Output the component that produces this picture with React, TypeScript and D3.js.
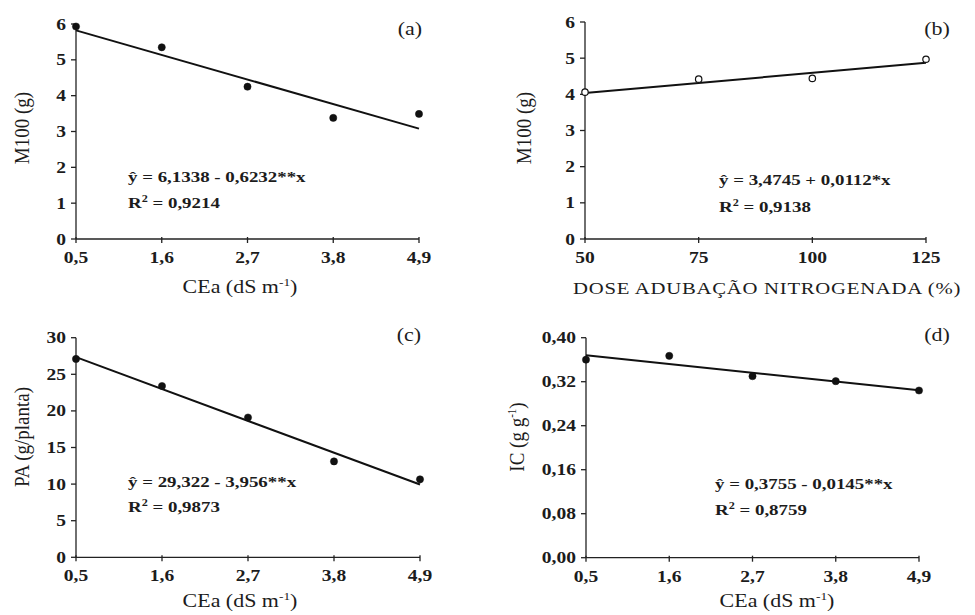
import React from "react";
import * as d3 from "d3";

// ---------- data ----------
const ceaLevels = [0.5, 1.6, 2.7, 3.8, 4.9];
const ceaTickLabels = ["0,5", "1,6", "2,7", "3,8", "4,9"];
const m100Salinity = [5.93, 5.35, 4.25, 3.38, 3.49];
const doseLevels = [50, 75, 100, 125];
const doseTickLabels = ["50", "75", "100", "125"];
const m100Dose = [4.06, 4.42, 4.44, 4.97];
const paValues = [27.1, 23.4, 19.1, 13.1, 10.65];
const icValues = [0.36, 0.367, 0.33, 0.321, 0.304];

const m100YTicks = [0, 1, 2, 3, 4, 5, 6];
const paYTicks = [0, 5, 10, 15, 20, 25, 30];
const icYTicks = [0, 0.08, 0.16, 0.24, 0.32, 0.4];
const icYTickLabels = ["0,00", "0,08", "0,16", "0,24", "0,32", "0,40"];

const regA = [6.1338, -0.6232];
const regB = [3.4745, 0.0112];
const regC = [29.322, -3.956];
const regD = [0.3755, -0.0145];

const eqA = ["= 6,1338 - 0,6232**x", "0,9214"];
const eqB = ["= 3,4745 + 0,0112*x", "0,9138"];
const eqC = ["= 29,322 - 3,956**x", "0,9873"];
const eqD = ["= 0,3755 - 0,0145**x", "0,8759"];

const FONT = "Liberation Serif, Times New Roman, Times, serif";
const SX = 1.22;

type PanelProps = {
  left: number; right: number; top: number; bottom: number;
  xs: number[]; xDomain: [number, number]; xTicks: number[]; xTickLabels: string[];
  ys: number[]; yDomain: [number, number]; yTicks: number[]; yTickLabels: string[];
  reg: number[]; eq: string[]; eqX: number; eqY: number; eqY2: number;
  tag: string; tagX: number; tagY: number;
  xLabel: React.ReactNode; xLabelX: number; xLabelY: number; xLabelSize?: number;
  yLabel: React.ReactNode; yLabelX: number; yLabelY: number;
  open?: boolean; xLabelSpacing?: number;
};

function SText({ x, y, size, weight, anchor, children, rotate, spacing, sx }: any) {
  const s = sx ?? SX;
  const tr = `translate(${x},${y}) scale(${s},1)` + (rotate ? ` rotate(${rotate})` : "");
  return (
    <text transform={tr} style={{ fontFamily: FONT }} fontSize={size} fontWeight={weight || "normal"}
      textAnchor={anchor || "start"} fill="#1c1c1c" letterSpacing={spacing || 0}>
      {children}
    </text>
  );
}

function Panel(p: PanelProps) {
  const x = d3.scaleLinear().domain(p.xDomain).range([p.left, p.right]);
  const y = d3.scaleLinear().domain(p.yDomain).range([p.bottom, p.top]);
  const lineGen = d3.line<number>().x((v) => x(v)).y((v) => y(p.reg[0] + p.reg[1] * v));
  const xr = [p.xDomain[0], p.xDomain[1]];
  return (
    <g>
      {/* axes */}
      <line x1={p.left} x2={p.left} y1={p.top} y2={p.bottom} stroke="#222" strokeWidth={1.3} />
      <line x1={p.left} x2={p.right} y1={p.bottom} y2={p.bottom} stroke="#222" strokeWidth={1.3} />
      {p.yTicks.map((t, i) => (
        <g key={"y" + i}>
          <line x1={p.left - 5} x2={p.left} y1={y(t)} y2={y(t)} stroke="#222" strokeWidth={1.3} />
          <SText x={p.left - 10} y={y(t) + 5.5} size={16} weight="bold" anchor="end">{p.yTickLabels[i]}</SText>
        </g>
      ))}
      {p.xTicks.map((t, i) => (
        <g key={"x" + i}>
          <line x1={x(t)} x2={x(t)} y1={p.bottom - 2} y2={p.bottom + 4} stroke="#222" strokeWidth={1.3} />
          <SText x={x(t)} y={p.bottom + 24} size={16} weight="bold" anchor="middle">{p.xTickLabels[i]}</SText>
        </g>
      ))}
      {/* regression line */}
      <path d={lineGen(xr) || ""} fill="none" stroke="#111" strokeWidth={2} />
      {/* points */}
      {p.xs.map((v, i) => (
        <circle key={"p" + i} cx={x(v)} cy={y(p.ys[i])} r={p.open ? 3.2 : 3.6}
          fill={p.open ? "#fff" : "#111"} stroke="#111" strokeWidth={p.open ? 1.2 : 0.5} />
      ))}
      {/* equation */}
      <SText x={p.eqX} y={p.eqY} size={15.5} weight="bold">
        {"\u0177 " + p.eq[0]}
      </SText>
      <SText x={p.eqX} y={p.eqY2} size={15.5} weight="bold">
        R<tspan fontSize={10} dy={-6}>2</tspan><tspan dy={6}>{" =  " + p.eq[1]}</tspan>
      </SText>
      {/* panel tag */}
      <SText x={p.tagX} y={p.tagY} size={18} anchor="middle">{p.tag}</SText>
      {/* axis labels */}
      <SText x={p.xLabelX} y={p.xLabelY} size={p.xLabelSize || 18} anchor="middle" spacing={p.xLabelSpacing}>{p.xLabel}</SText>
      <SText x={p.yLabelX} y={p.yLabelY} size={19} anchor="middle" rotate={-90} sx={1.15}>{p.yLabel}</SText>
    </g>
  );
}

const ceaLabel = (
  <>CEa (dS m<tspan fontSize={11} dy={-7}>-1</tspan><tspan dy={7}>)</tspan></>
);
const icLabel = (
  <>IC (g g<tspan fontSize={11} dy={-7}>-1</tspan><tspan dy={7}>)</tspan></>
);

export default function App() {
  return (
    <svg width={975} height={615} style={{ position: "absolute", left: 0, top: 0, background: "#fff" }}>
      <Panel left={76} right={419} top={24} bottom={239}
        xs={ceaLevels} xDomain={[0.5, 4.9]} xTicks={ceaLevels} xTickLabels={ceaTickLabels}
        ys={m100Salinity} yDomain={[0, 6]} yTicks={m100YTicks} yTickLabels={m100YTicks.map(String)}
        reg={regA} eq={eqA} eqX={128} eqY={182} eqY2={208}
        tag="(a)" tagX={410} tagY={35}
        xLabel={ceaLabel} xLabelX={240} xLabelY={293}
        yLabel="M100 (g)" yLabelX={29} yLabelY={128} />
      <Panel left={585} right={926} top={22} bottom={239}
        xs={doseLevels} xDomain={[50, 125]} xTicks={doseLevels} xTickLabels={doseTickLabels}
        ys={m100Dose} yDomain={[0, 6]} yTicks={m100YTicks} yTickLabels={m100YTicks.map(String)}
        reg={regB} eq={eqB} eqX={719} eqY={185} eqY2={212}
        tag="(b)" tagX={937} tagY={35} open
        xLabel="DOSE ADUBAÇÃO NITROGENADA (%)" xLabelX={767} xLabelY={294} xLabelSize={17} xLabelSpacing={0.6}
        yLabel="M100 (g)" yLabelX={531} yLabelY={128} />
      <Panel left={76} right={420} top={337.7} bottom={557.3}
        xs={ceaLevels} xDomain={[0.5, 4.9]} xTicks={ceaLevels} xTickLabels={ceaTickLabels}
        ys={paValues} yDomain={[0, 30]} yTicks={paYTicks} yTickLabels={paYTicks.map(String)}
        reg={regC} eq={eqC} eqX={128} eqY={487} eqY2={512}
        tag="(c)" tagX={409} tagY={341}
        xLabel={ceaLabel} xLabelX={240} xLabelY={607}
        yLabel="PA (g/planta)" yLabelX={29} yLabelY={437} />
      <Panel left={586} right={919} top={337.7} bottom={557.7}
        xs={ceaLevels} xDomain={[0.5, 4.9]} xTicks={ceaLevels} xTickLabels={ceaTickLabels}
        ys={icValues} yDomain={[0, 0.4]} yTicks={icYTicks} yTickLabels={icYTickLabels}
        reg={regD} eq={eqD} eqX={715} eqY={489} eqY2={515}
        tag="(d)" tagX={937} tagY={341}
        xLabel={ceaLabel} xLabelX={777} xLabelY={607}
        yLabel={icLabel} yLabelX={524} yLabelY={437} />
    </svg>
  );
}
